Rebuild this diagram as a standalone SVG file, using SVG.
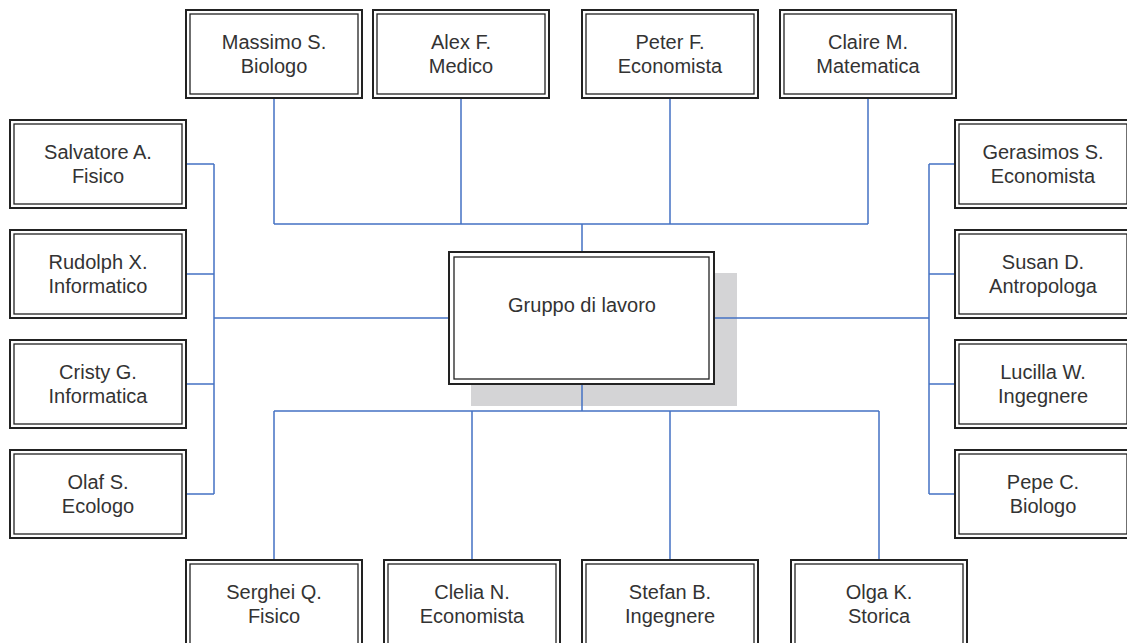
<svg xmlns="http://www.w3.org/2000/svg" width="1127" height="643" viewBox="0 0 1127 643">
<style>
.o{fill:#fff;stroke:#222;stroke-width:2}
.i{fill:none;stroke:#222;stroke-width:1.3}
.t{font-family:"Liberation Sans",Arial,sans-serif;font-size:20px;fill:#333;text-anchor:middle}
.c{fill:none;stroke:#4472c4;stroke-width:1.5}
</style>
<defs>
<g id="bx"><rect class="o" x="0" y="0" width="176" height="88"/><rect class="i" x="4" y="4" width="168" height="80"/></g>
</defs>
<rect width="1127" height="643" fill="#fff"/>
<rect id="shadow" x="471" y="273" width="266" height="133" fill="#d4d4d6"/>
<g id="connectors">
<path class="c" d="M274 98V224M461 98V224M670 98V224M868 98V224M274 224H868M582 224V252"/>
<path class="c" d="M186 164H214M186 274H214M186 384H214M186 494H214M214 164V494M214 318H449"/>
<path class="c" d="M955 164H929M955 274H929M955 384H929M955 494H929M929 164V494M929 318H714"/>
<path class="c" d="M582 384V411M274 411H879M274 411V560M472 411V560M670 411V560M879 411V560"/>
</g>
<g id="center">
<rect class="o" x="449" y="252" width="265" height="132"/>
<rect class="i" x="454" y="257" width="255" height="122"/>
<text class="t" x="582" y="312">Gruppo di lavoro</text>
</g>
<g id="massimo"><use href="#bx" x="186" y="10"/><text class="t" x="274" y="49">Massimo S.</text><text class="t" x="274" y="73">Biologo</text></g>
<g id="alex"><use href="#bx" x="373" y="10"/><text class="t" x="461" y="49">Alex F.</text><text class="t" x="461" y="73">Medico</text></g>
<g id="peter"><use href="#bx" x="582" y="10"/><text class="t" x="670" y="49">Peter F.</text><text class="t" x="670" y="73">Economista</text></g>
<g id="claire"><use href="#bx" x="780" y="10"/><text class="t" x="868" y="49">Claire M.</text><text class="t" x="868" y="73">Matematica</text></g>
<g id="salvatore"><use href="#bx" x="10" y="120"/><text class="t" x="98" y="159">Salvatore A.</text><text class="t" x="98" y="183">Fisico</text></g>
<g id="rudolph"><use href="#bx" x="10" y="230"/><text class="t" x="98" y="269">Rudolph X.</text><text class="t" x="98" y="293">Informatico</text></g>
<g id="cristy"><use href="#bx" x="10" y="340"/><text class="t" x="98" y="379">Cristy G.</text><text class="t" x="98" y="403">Informatica</text></g>
<g id="olaf"><use href="#bx" x="10" y="450"/><text class="t" x="98" y="489">Olaf S.</text><text class="t" x="98" y="513">Ecologo</text></g>
<g id="gerasimos"><use href="#bx" x="955" y="120"/><text class="t" x="1043" y="159">Gerasimos S.</text><text class="t" x="1043" y="183">Economista</text></g>
<g id="susan"><use href="#bx" x="955" y="230"/><text class="t" x="1043" y="269">Susan D.</text><text class="t" x="1043" y="293">Antropologa</text></g>
<g id="lucilla"><use href="#bx" x="955" y="340"/><text class="t" x="1043" y="379">Lucilla W.</text><text class="t" x="1043" y="403">Ingegnere</text></g>
<g id="pepe"><use href="#bx" x="955" y="450"/><text class="t" x="1043" y="489">Pepe C.</text><text class="t" x="1043" y="513">Biologo</text></g>
<g id="serghei"><use href="#bx" x="186" y="560"/><text class="t" x="274" y="599">Serghei Q.</text><text class="t" x="274" y="623">Fisico</text></g>
<g id="clelia"><use href="#bx" x="384" y="560"/><text class="t" x="472" y="599">Clelia N.</text><text class="t" x="472" y="623">Economista</text></g>
<g id="stefan"><use href="#bx" x="582" y="560"/><text class="t" x="670" y="599">Stefan B.</text><text class="t" x="670" y="623">Ingegnere</text></g>
<g id="olga"><use href="#bx" x="791" y="560"/><text class="t" x="879" y="599">Olga K.</text><text class="t" x="879" y="623">Storica</text></g>
</svg>
